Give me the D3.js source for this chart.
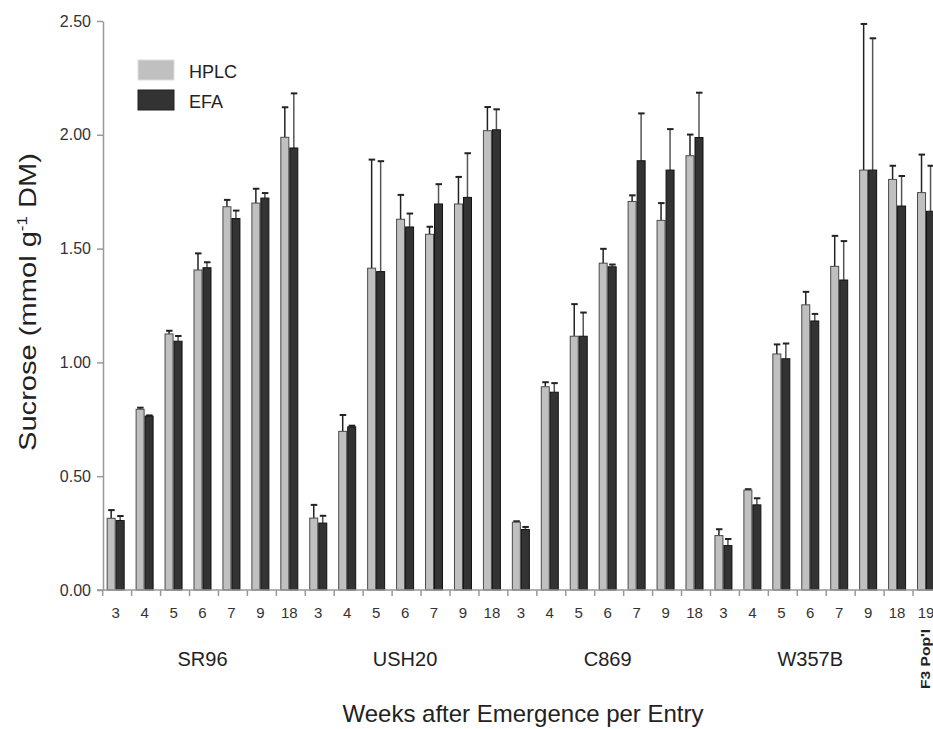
<!DOCTYPE html>
<html>
<head>
<meta charset="utf-8">
<script src="https://cdn.jsdelivr.net/npm/d3@7"></script>
<style>
  body { margin: 0; background: #fff; }
  svg { display: block; font-family: "Liberation Sans", Arial, sans-serif; }
</style>
</head>
<body>
<svg id="chart" width="933" height="729"></svg>
<script>
// ── Data ──────────────────────────────────────────────────────────────────────
const weekLabels = ["3","4","5","6","7","9","18", "3","4","5","6","7","9","18",
                    "3","4","5","6","7","9","18", "3","4","5","6","7","9","18", "19"];
const entryNames = ["SR96", "USH20", "C869", "W357B"];
const extraLabel = "F3 Pop'l";
const series     = ["HPLC", "EFA"];

const hplc    = [0.315, 0.794, 1.125, 1.406, 1.684, 1.700, 1.989,
                 0.316, 0.697, 1.414, 1.629, 1.563, 1.696, 2.018,
                 0.298, 0.893, 1.115, 1.436, 1.707, 1.624, 1.908,
                 0.239, 0.439, 1.037, 1.253, 1.422, 1.845, 1.804,
                 1.746];
const hplcErr = [0.036, 0.007, 0.014, 0.073, 0.030, 0.063, 0.132,
                 0.058, 0.072, 0.477, 0.107, 0.033, 0.119, 0.104,
                 0.004, 0.020, 0.141, 0.063, 0.027, 0.076, 0.093,
                 0.028, 0.004, 0.042, 0.057, 0.134, 0.642, 0.060,
                 0.167];
const efa     = [0.305, 0.764, 1.093, 1.416, 1.632, 1.722, 1.942,
                 0.294, 0.717, 1.399, 1.595, 1.696, 1.725, 2.022,
                 0.266, 0.869, 1.115, 1.420, 1.886, 1.845, 1.988,
                 0.195, 0.374, 1.016, 1.182, 1.362, 1.845, 1.687,
                 1.664];
const efaErr  = [0.020, 0.003, 0.023, 0.024, 0.035, 0.022, 0.240,
                 0.032, 0.005, 0.485, 0.059, 0.087, 0.194, 0.090,
                 0.011, 0.040, 0.104, 0.010, 0.208, 0.180, 0.197,
                 0.029, 0.029, 0.067, 0.031, 0.171, 0.579, 0.132,
                 0.200];
const yTicks = [0, 0.5, 1, 1.5, 2, 2.5];

// ── Scales ────────────────────────────────────────────────────────────────────
const svg = d3.select("#chart");
const X0 = 101.2, X1 = 940.5, Y0 = 590, Y1 = 21;
const idx = weekLabels.map((d, i) => i);

const x = d3.scaleBand().domain(idx).range([X0, X1])
  .paddingInner(0.378).paddingOuter(0.189);
const xs = d3.scaleBand().domain(series).range([0, x.bandwidth()]);
const y = d3.scaleLinear().domain([0, 2.5]).range([Y0, Y1]);

const FILL   = { HPLC: "#c0c0c0", EFA: "#333333" };
const STROKE = { HPLC: "#4a4a4a", EFA: "#111111" };
const ERRCOL = { HPLC: "#222222", EFA: "#555555" };

const rows = idx.map(i => ({ i, vals: [
  { s: "HPLC", v: hplc[i], e: hplcErr[i] },
  { s: "EFA",  v: efa[i],  e: efaErr[i]  } ] }));

// ── Bars + error bars ─────────────────────────────────────────────────────────
const grp = svg.append("g").selectAll("g").data(rows).join("g")
  .attr("transform", d => `translate(${x(d.i)},0)`);

grp.selectAll("line.err").data(d => d.vals).join("line")
  .attr("class", "err")
  .attr("x1", d => xs(d.s) + xs.bandwidth() / 2).attr("x2", d => xs(d.s) + xs.bandwidth() / 2)
  .attr("y1", d => y(d.v)).attr("y2", d => y(d.v + d.e))
  .attr("stroke", d => ERRCOL[d.s]).attr("stroke-width", 1.5);

grp.selectAll("line.cap").data(d => d.vals).join("line")
  .attr("class", "cap")
  .attr("x1", d => xs(d.s) + xs.bandwidth() / 2 - 3).attr("x2", d => xs(d.s) + xs.bandwidth() / 2 + 3.5)
  .attr("y1", d => y(d.v + d.e)).attr("y2", d => y(d.v + d.e))
  .attr("stroke", "#222").attr("stroke-width", 2);

grp.selectAll("rect").data(d => d.vals).join("rect")
  .attr("x", d => xs(d.s) + 0.5)
  .attr("y", d => y(d.v))
  .attr("width", xs.bandwidth() - 1)
  .attr("height", d => Y0 - y(d.v))
  .attr("fill", d => FILL[d.s])
  .attr("stroke", d => STROKE[d.s])
  .attr("stroke-width", 1);

// ── Axes ──────────────────────────────────────────────────────────────────────
const yAxis = svg.append("g").attr("transform", `translate(103,0)`)
  .call(d3.axisLeft(y).tickValues(yTicks).tickFormat(d3.format(".2f"))
    .tickSize(6).tickSizeOuter(0).tickPadding(6));
yAxis.select(".domain").attr("stroke", "#999").attr("stroke-width", 1.5);
yAxis.selectAll(".tick line").attr("stroke", "#999").attr("stroke-width", 1.5);
yAxis.selectAll("text").attr("font-size", 16).attr("fill", "#333")
  .attr("font-family", "Liberation Sans, Arial, sans-serif");

svg.append("line")
  .attr("x1", 97).attr("x2", 933).attr("y1", Y0).attr("y2", Y0)
  .attr("stroke", "#999").attr("stroke-width", 1.5);

// boundary ticks between groups
svg.append("g").selectAll("line").data(d3.range(weekLabels.length))
  .join("line")
  .attr("x1", i => x(i) - x.step() * x.paddingInner() / 2 + 1.5)
  .attr("x2", i => x(i) - x.step() * x.paddingInner() / 2 + 1.5)
  .attr("y1", Y0).attr("y2", Y0 + 6)
  .attr("stroke", "#999").attr("stroke-width", 1.5);

const xAxis = svg.append("g").attr("transform", `translate(0,${Y0})`)
  .call(d3.axisBottom(x).tickFormat(i => weekLabels[i]).tickSize(0).tickPadding(17));
xAxis.select(".domain").remove();
xAxis.selectAll("text").attr("font-size", 15).attr("fill", "#333")
  .attr("font-family", "Liberation Sans, Arial, sans-serif");

// entry names under each block of seven
svg.append("g").selectAll("text").data(entryNames).join("text")
  .attr("x", (d, k) => x(k * 7 + 3) + x.bandwidth() / 2)
  .attr("y", 666)
  .attr("text-anchor", "middle")
  .attr("font-size", 20).attr("fill", "#222")
  .text(d => d);

svg.append("text")
  .attr("transform", `translate(${x(28) + x.bandwidth() / 2 + 4},659) rotate(-90)`)
  .attr("text-anchor", "middle")
  .attr("font-size", 13).attr("font-weight", "bold").attr("fill", "#222")
  .attr("textLength", 60).attr("lengthAdjust", "spacingAndGlyphs")
  .text(extraLabel);

// ── Titles ────────────────────────────────────────────────────────────────────
const yt = svg.append("text")
  .attr("transform", "translate(36,302) rotate(-90)")
  .attr("text-anchor", "middle")
  .attr("font-size", 24).attr("fill", "#222")
  .attr("textLength", 298).attr("lengthAdjust", "spacingAndGlyphs");
yt.append("tspan").text("Sucrose (mmol g");
yt.append("tspan").attr("font-size", 14).attr("dy", -9).text("-1");
yt.append("tspan").attr("dy", 9).text(" DM)");

svg.append("text")
  .attr("x", 523).attr("y", 722)
  .attr("text-anchor", "middle")
  .attr("font-size", 24).attr("fill", "#222")
  .text("Weeks after Emergence per Entry");

// ── Legend ────────────────────────────────────────────────────────────────────
const leg = svg.append("g").selectAll("g").data(series).join("g")
  .attr("transform", (d, i) => `translate(138,${60 + i * 30})`);
leg.append("rect")
  .attr("width", 36).attr("height", 20)
  .attr("fill", d => FILL[d]).attr("stroke", d => d === "HPLC" ? "#ddd" : "#222");
leg.append("text")
  .attr("x", 51).attr("y", 18)
  .attr("font-size", 18).attr("fill", "#222")
  .text(d => d);
</script>
</body>
</html>
